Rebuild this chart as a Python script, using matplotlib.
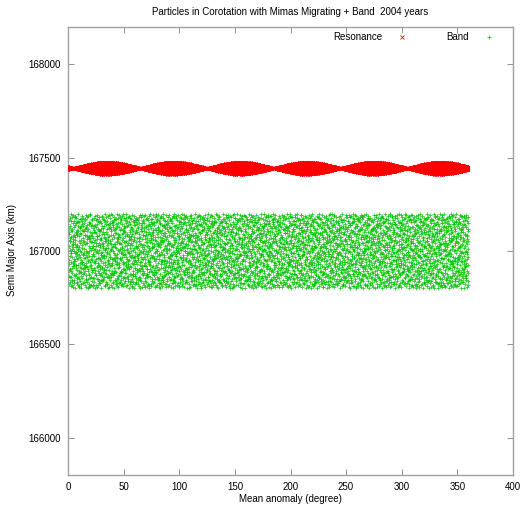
import numpy as np
import matplotlib
matplotlib.use('Agg')
import matplotlib.pyplot as plt

# resonance lobes: centre angle (deg), half-length (deg), half-width (km)
lobe_centres = [35, 95, 155, 215, 275, 335]
lobe_lengths = [30, 30, 30, 30, 30, 30]
lobe_widths = [36, 36, 36, 36, 36, 36]
res_axis = 167444
res_per_lobe = 1100

# band of free particles
band_angles = [0, 360]
band_axis = [166800, 167200]
band_count = 4200

x_ticks = [0, 50, 100, 150, 200, 250, 300, 350, 400]
y_ticks = [166000, 166500, 167000, 167500, 168000]


def halton(n, base, skip=0):
    # van der Corput digits reversed in the given base
    out = np.zeros(n)
    for i in range(n):
        f, r, k = 1.0, 0.0, i + 1 + skip
        while k > 0:
            f /= base
            r += f * (k % base)
            k //= base
        out[i] = r
    return out


res_x, res_y = [], []
u, v = halton(res_per_lobe, 2), halton(res_per_lobe, 3)
for c, l, w in zip(lobe_centres, lobe_lengths, lobe_widths):
    s = 2 * u - 1
    res_x.append((c + s * l) % 360)
    res_y.append(res_axis + (2 * v - 1) * w * np.cos(np.pi * s / 2))
res_x = np.concatenate(res_x)
res_y = np.concatenate(res_y)

u, v = halton(band_count, 2, 409), halton(band_count, 3, 409)
band_x = band_angles[0] + u * (band_angles[1] - band_angles[0])
band_y = band_axis[0] + v * (band_axis[1] - band_axis[0])

plt.rcParams['font.family'] = ['Liberation Sans', 'DejaVu Sans']
plt.rcParams['font.size'] = 7

W, H = 526, 507
fig = plt.figure(figsize=(W / 100, H / 100), dpi=100)
ax = fig.add_axes([68 / W, 1 - 475 / H, 445 / W, 448 / H])

ax.plot(res_x, res_y, 'x', color='#ff0000', ms=1.8, mew=0.7, zorder=3)
ax.plot(band_x, band_y, '+', color='#00c000', ms=3.2, mew=0.5, alpha=0.9, zorder=2)

ax.set_xlim(0, 400)
ax.set_ylim(165800, 168200)
ax.set_xticks(x_ticks)
ax.set_yticks(y_ticks)
ax.tick_params(direction='in', length=4, width=0.6, color='#808080',
               top=True, right=True, pad=5)
for sp in ax.spines.values():
    sp.set_color('#a0a0a0')
    sp.set_linewidth(1)

fig.text(290.5 / W, 1 - 12 / H, 'Particles in Corotation with Mimas Migrating + Band  2004 years',
         ha='center', va='center')
ax.set_xlabel('Mean anomaly (degree)')
ax.xaxis.set_label_coords(0.5, -(494 - 475) / 448)
fig.text(12 / W, 1 - 250 / H, 'Semi Major Axis (km)', rotation=90, ha='center', va='center')

# key in the top right corner
key_y = 1 - 37 / H
fig.text(382 / W, key_y, 'Resonance', ha='right', va='center')
fig.text(469 / W, key_y, 'Band', ha='right', va='center')
fig.lines.append(plt.Line2D([402 / W], [key_y], marker='x', color='#ff0000', ms=2.2, mew=0.6,
                            transform=fig.transFigure))
fig.lines.append(plt.Line2D([489 / W], [key_y], marker='+', color='#00c000', ms=2.6, mew=0.5,
                            transform=fig.transFigure))

fig.savefig('out.png', dpi=100)
